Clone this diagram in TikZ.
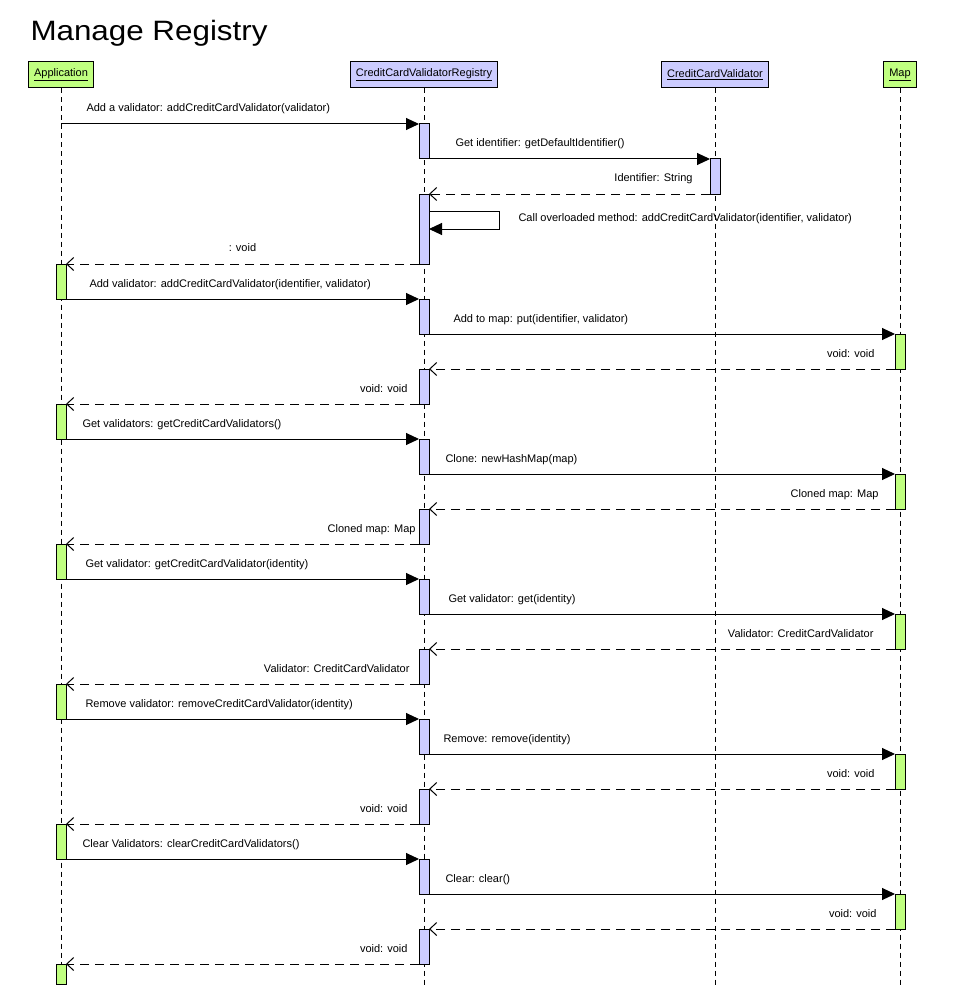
\documentclass[tikz,border=0pt]{standalone}
\usepackage{fontspec}
\setmainfont{Liberation Sans}
\newfontfamily\titlefont[FakeStretch=1.12]{Liberation Sans}
\usetikzlibrary{arrows.meta,calc}
\definecolor{appgreen}{HTML}{C0FF80}
\definecolor{reglilac}{HTML}{CCCCFF}

\begin{document}
\begin{tikzpicture}[x=1pt, y=-1pt, line width=1pt, font=\fontsize{11}{13}\selectfont,
	head/.style={draw, inner sep=0pt, inner xsep=5.5pt, minimum height=26pt},
	lifeline/.style={line width=.8pt, dash pattern=on 5pt off 4pt},
	bar/.style={draw, inner sep=0pt, outer sep=0pt, minimum width=10pt, minimum height=35pt},
	gbar/.style={bar, fill=appgreen},
	lbar/.style={bar, fill=reglilac},
	callmsg/.style={-{Triangle[length=13pt,width=12pt]}},
	retmsg/.style={-{Straight Barb[length=7pt,width=13pt]}, dash pattern=on 9pt off 6pt},
	lbl/.style={pos=0, anchor=base west, inner sep=0pt, yshift=12pt},
	rlbl/.style={pos=0, anchor=base east, inner sep=0pt, yshift=12pt}]
	\useasboundingbox (0,0) rectangle (960,995);
	\node[anchor=base west, inner sep=0pt, font=\titlefont\fontsize{28}{32}\selectfont] (title) at (30,41) {Manage Registry};
	% lifelines
	\node[head, fill=appgreen] (app) at (61,75) {\underline{Application}};
	\node[head, fill=reglilac] (reg) at (424,75) {\underline{CreditCardValidatorRegistry}};
	\node[head, fill=reglilac] (ccv) at (715,75) {\underline{CreditCardValidator}};
	\node[head, fill=appgreen] (map) at (900,75) {\underline{Map}};
	\foreach \who in {app,reg,ccv,map}
	\draw[lifeline] (\who.south) -- (\who.south |- 0,985);
	% activations
	\path
	(61,281.5)node[gbar](a1){}
	(61,421.5)node[gbar](a2){}
	(61,561.5)node[gbar](a3){}
	(61,701.5)node[gbar](a4){}
	(61,841.5)node[gbar](a5){}
	(61,974)node[gbar, minimum height=20pt](a6){}
	(424,141.5)node[lbar](r1){}
	(424,229)node[lbar, minimum height=70pt](r2){}
	(424,316.5)node[lbar](r3){}
	(424,386.5)node[lbar](r4){}
	(424,456.5)node[lbar](r5){}
	(424,526.5)node[lbar](r6){}
	(424,596.5)node[lbar](r7){}
	(424,666.5)node[lbar](r8){}
	(424,736.5)node[lbar](r9){}
	(424,806.5)node[lbar](r10){}
	(424,876.5)node[lbar](r11){}
	(424,946.5)node[lbar](r12){}
	(715,176.5)node[lbar](c1){}
	(900,351.5)node[gbar](m1){}
	(900,491.5)node[gbar](m2){}
	(900,631.5)node[gbar](m3){}
	(900,771.5)node[gbar](m4){}
	(900,911.5)node[gbar](m5){}
	;
	\coordinate (a0) at (61,124);
	\coordinate (s1) at ($(r2.north east)+(0,17)$);
	\coordinate (s2) at ($(r2.north east)+(0,35)$);
	% messages
	\draw[callmsg] (a0) -- node[lbl, xshift=25pt]{Add a validator: addCreditCardValidator(validator)} (r1.north west);
	\draw[callmsg] (r1.south east) -- node[lbl, xshift=26pt]{Get identifier: getDefaultIdentifier()} (c1.north west);
	\draw[retmsg] (c1.south west) -- node[rlbl, xshift=-17pt]{Identifier: String} (r2.north east);
	\draw[callmsg] (s1) -- ++(70,0) node[anchor=base west, inner sep=0pt, xshift=19pt, yshift=-11pt]{Call overloaded method: addCreditCardValidator(identifier, validator)} |- (s2);
	\draw[retmsg] (r2.south west) -- node[midway, inner sep=0pt, yshift=16pt]{: void} (a1.north east);
	\draw[callmsg] (a1.south east) -- node[lbl, xshift=23pt]{Add validator: addCreditCardValidator(identifier, validator)} (r3.north west);
	\draw[callmsg] (r3.south east) -- node[lbl, xshift=24pt]{Add to map: put(identifier, validator)} (m1.north west);
	\draw[retmsg] (m1.south west) -- node[rlbl, xshift=-20pt]{void: void} (r4.north east);
	\draw[retmsg] (r4.south west) -- node[rlbl, xshift=-11pt]{void: void} (a2.north east);
	\draw[callmsg] (a2.south east) -- node[lbl, xshift=16pt]{Get validators: getCreditCardValidators()} (r5.north west);
	\draw[callmsg] (r5.south east) -- node[lbl, xshift=16pt]{Clone: newHashMap(map)} (m2.north west);
	\draw[retmsg] (m2.south west) -- node[rlbl, xshift=-16pt]{Cloned map: Map} (r6.north east);
	\draw[retmsg] (r6.south west) -- node[rlbl, xshift=-3pt]{Cloned map: Map} (a3.north east);
	\draw[callmsg] (a3.south east) -- node[lbl, xshift=19pt]{Get validator: getCreditCardValidator(identity)} (r7.north west);
	\draw[callmsg] (r7.south east) -- node[lbl, xshift=19pt]{Get validator: get(identity)} (m3.north west);
	\draw[retmsg] (m3.south west) -- node[rlbl, xshift=-21pt]{Validator: CreditCardValidator} (r8.north east);
	\draw[retmsg] (r8.south west) -- node[rlbl, xshift=-9pt]{Validator: CreditCardValidator} (a4.north east);
	\draw[callmsg] (a4.south east) -- node[lbl, xshift=19pt]{Remove validator: removeCreditCardValidator(identity)} (r9.north west);
	\draw[callmsg] (r9.south east) -- node[lbl, xshift=14pt]{Remove: remove(identity)} (m4.north west);
	\draw[retmsg] (m4.south west) -- node[rlbl, xshift=-20pt]{void: void} (r10.north east);
	\draw[retmsg] (r10.south west) -- node[rlbl, xshift=-11pt]{void: void} (a5.north east);
	\draw[callmsg] (a5.south east) -- node[lbl, xshift=16pt]{Clear Validators: clearCreditCardValidators()} (r11.north west);
	\draw[callmsg] (r11.south east) -- node[lbl, xshift=16pt]{Clear: clear()} (m5.north west);
	\draw[retmsg] (m5.south west) -- node[rlbl, xshift=-18pt]{void: void} (r12.north east);
	\draw[retmsg] (r12.south west) -- node[rlbl, xshift=-11pt]{void: void} (a6.north east);
\end{tikzpicture}
\end{document}
